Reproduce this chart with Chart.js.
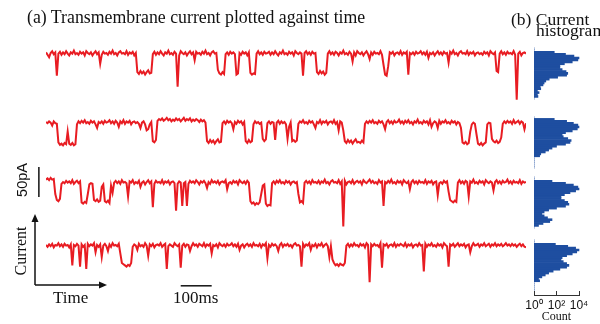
<!DOCTYPE html>
<html>
<head>
<meta charset="utf-8">
<script src="https://cdn.jsdelivr.net/npm/chart.js@4"></script>
<style>
html, body { margin: 0; padding: 0; background: #fff; }
#wrap { position: relative; width: 600px; height: 324px; overflow: hidden; }
#wrap canvas, #wrap svg { position: absolute; }
.lbl { position: absolute; font-family: 'Liberation Serif', serif; color: #111; white-space: nowrap; line-height: 1; }
.rot { transform: translate(-50%, -50%) rotate(-90deg); }
</style>
</head>
<body>
<div id="wrap">
  <canvas id="trace1" width="600" height="96" style="left:0;top:35px"></canvas>
  <canvas id="trace2" width="600" height="96" style="left:0;top:104px"></canvas>
  <canvas id="trace3" width="600" height="96" style="left:0;top:164px"></canvas>
  <canvas id="trace4" width="600" height="96" style="left:0;top:227px"></canvas>
  <canvas id="hist1" width="46" height="96" style="left:534px;top:35px"></canvas>
  <canvas id="hist2" width="46" height="96" style="left:534px;top:104px"></canvas>
  <canvas id="hist3" width="46" height="96" style="left:534px;top:164px"></canvas>
  <canvas id="hist4" width="46" height="96" style="left:534px;top:227px"></canvas>
  <canvas id="countAxis" width="76" height="33" style="left:519px;top:291px"></canvas>

  <svg width="600" height="324" style="left:0;top:0">
    <line x1="35" y1="285" x2="35" y2="221" stroke="#111" stroke-width="1.5"/>
    <polygon points="35,214 31.5,222 38.5,222" fill="#111"/>
    <line x1="35" y1="285" x2="100" y2="285" stroke="#111" stroke-width="1.5"/>
    <polygon points="107,285 99,281.5 99,288.5" fill="#111"/>
  </svg>

  <div class="lbl" style="left:27px;top:9px;font-size:17.8px">(a) Transmembrane current plotted against time</div>
  <div class="lbl" style="left:511px;top:11px;font-size:17.5px">(b) Current</div>
  <div class="lbl" style="left:536px;top:22px;font-size:17.5px">histogram</div>
  <div class="lbl rot" style="left:22px;top:180px;font-size:14.5px;font-family:'Liberation Sans',sans-serif">50pA</div>
  <div class="lbl rot" style="left:21px;top:251px;font-size:16px">Current</div>
  <div class="lbl" style="left:53px;top:289px;font-size:17px">Time</div>
  <div class="lbl" style="left:173px;top:289px;font-size:17px">100ms</div>
</div>
<script>
// sample times (ms), one point every 5 ms
const timeMs = Array.from({ length: 311 }, (_, i) => i * 5)

// transmembrane current (pA)
const current1 = [
  101, 97, 93, 100, 103, 98, 101, 62, 99, 102,
  97, 101, 98, 103, 99, 96, 101, 99, 104, 98,
  100, 97, 102, 99, 101, 96, 103, 100, 98, 101,
  96, 100, 103, 98, 101, 82, 97, 102, 99, 100,
  97, 102, 99, 104, 98, 100, 96, 101, 103, 99,
  100, 98, 103, 97, 101, 99, 102, 96, 100, 68,
  65, 70, 66, 69, 64, 68, 71, 66, 67, 98,
  102, 97, 101, 98, 103, 99, 96, 101, 99, 104,
  98, 100, 97, 102, 99, 44, 96, 103, 100, 98,
  101, 96, 100, 103, 98, 101, 88, 102, 99, 100,
  97, 102, 99, 104, 98, 100, 96, 101, 103, 99,
  100, 72, 66, 64, 68, 65, 98, 101, 97, 102,
  99, 101, 98, 64, 66, 100, 97, 102, 99, 101,
  96, 101, 67, 64, 66, 65, 99, 103, 98, 101,
  97, 102, 99, 100, 102, 97, 101, 98, 103, 99,
  96, 101, 99, 104, 98, 100, 97, 102, 99, 101,
  96, 103, 100, 98, 101, 99, 62, 100, 103, 98,
  101, 97, 102, 99, 100, 68, 65, 70, 66, 69,
  64, 67, 99, 103, 98, 101, 97, 102, 100, 96,
  101, 99, 104, 98, 100, 97, 102, 99, 86, 101,
  96, 103, 100, 98, 101, 96, 100, 103, 98, 90,
  101, 97, 102, 99, 100, 98, 103, 97, 80, 64,
  62, 78, 101, 99, 102, 96, 100, 101, 98, 103,
  97, 101, 99, 102, 64, 100, 98, 101, 97, 102,
  99, 100, 103, 98, 101, 97, 102, 92, 100, 98,
  101, 96, 100, 103, 98, 101, 97, 102, 99, 100,
  84, 102, 99, 104, 98, 100, 96, 101, 103, 99,
  100, 98, 103, 97, 101, 99, 102, 96, 100, 101,
  98, 100, 97, 102, 99, 101, 96, 103, 100, 98,
  101, 70, 68, 99, 103, 98, 101, 97, 102, 99,
  100, 98, 103, 97, 22, 99, 102, 96, 100, 101,
  99
]
const current2 = [
  100, 98, 101, 99, 94, 101, 98, 97, 66, 62,
  64, 61, 65, 63, 84, 64, 62, 65, 61, 63,
  96, 101, 98, 102, 99, 103, 98, 100, 97, 102,
  99, 101, 96, 90, 100, 98, 101, 97, 102, 99,
  100, 103, 98, 101, 97, 102, 99, 92, 101, 98,
  103, 97, 101, 99, 102, 96, 100, 101, 98, 100,
  97, 90, 99, 101, 96, 86, 88, 96, 100, 68,
  66, 70, 102, 105, 103, 106, 102, 104, 107, 103,
  105, 101, 104, 102, 106, 103, 105, 101, 104, 107,
  102, 105, 103, 106, 101, 104, 102, 105, 103, 100,
  104, 101, 103, 99, 68, 65, 70, 66, 69, 64,
  68, 71, 66, 67, 98, 101, 97, 102, 99, 101,
  98, 88, 100, 97, 102, 99, 101, 96, 100, 68,
  65, 70, 66, 68, 96, 101, 98, 100, 97, 99,
  72, 68, 71, 98, 101, 97, 100, 99, 70, 99,
  102, 97, 101, 98, 100, 96, 72, 92, 99, 68,
  70, 67, 69, 97, 101, 99, 103, 98, 100, 97,
  102, 99, 101, 96, 90, 100, 98, 103, 97, 101,
  99, 102, 96, 100, 101, 98, 103, 97, 100, 86,
  101, 99, 86, 68, 65, 70, 66, 69, 64, 68,
  71, 66, 67, 65, 69, 66, 97, 101, 98, 102,
  99, 103, 98, 100, 97, 102, 99, 101, 96, 88,
  100, 103, 98, 101, 97, 102, 99, 100, 104, 98,
  101, 97, 102, 99, 103, 98, 100, 96, 101, 99,
  104, 98, 100, 97, 102, 99, 101, 96, 103, 92,
  98, 101, 99, 90, 102, 97, 101, 99, 103, 98,
  100, 97, 102, 99, 101, 96, 100, 98, 90, 66,
  64, 67, 63, 65, 84, 96, 99, 97, 80, 64,
  62, 65, 61, 64, 66, 96, 99, 98, 72, 68,
  66, 69, 65, 67, 74, 97, 101, 98, 102, 99,
  101, 97, 103, 98, 100, 102, 97, 101, 99, 88,
  98
]
const current3 = [
  104, 106, 103, 107, 104, 105, 80, 70, 68, 72,
  97, 100, 98, 102, 99, 101, 98, 103, 97, 100,
  102, 98, 101, 66, 64, 67, 65, 80, 96, 98,
  97, 70, 68, 71, 67, 69, 92, 96, 68, 66,
  69, 65, 94, 82, 99, 102, 98, 101, 97, 103,
  99, 100, 98, 76, 101, 99, 103, 97, 100, 98,
  102, 92, 99, 101, 96, 100, 103, 98, 101, 58,
  97, 102, 99, 100, 98, 103, 97, 101, 99, 102,
  96, 100, 101, 98, 52, 97, 101, 99, 60, 98,
  100, 60, 97, 102, 99, 101, 98, 103, 100, 96,
  101, 99, 102, 98, 90, 100, 97, 103, 99, 101,
  98, 102, 96, 100, 101, 99, 103, 88, 98, 100,
  97, 102, 99, 101, 96, 103, 100, 98, 101, 97,
  102, 99, 68, 64, 66, 62, 65, 63, 66, 80,
  94, 96, 64, 60, 62, 61, 98, 101, 97, 102,
  99, 103, 98, 100, 97, 102, 99, 101, 96, 100,
  101, 98, 100, 80, 66, 68, 65, 99, 102, 98,
  101, 97, 103, 99, 100, 98, 102, 97, 101, 99,
  104, 98, 100, 96, 101, 103, 99, 100, 98, 103,
  97, 101, 26, 102, 96, 100, 101, 98, 103, 97,
  100, 102, 99, 101, 96, 103, 100, 98, 101, 104,
  99, 102, 98, 100, 97, 103, 99, 101, 60, 100,
  98, 102, 99, 104, 98, 100, 97, 102, 99, 101,
  96, 103, 100, 98, 101, 88, 100, 103, 98, 101,
  97, 102, 99, 100, 98, 103, 97, 101, 99, 102,
  96, 100, 101, 78, 98, 100, 97, 102, 99, 101,
  84, 70, 68, 66, 69, 67, 99, 103, 98, 101,
  97, 102, 100, 76, 101, 99, 104, 98, 100, 97,
  102, 99, 101, 96, 103, 100, 98, 101, 99, 86,
  100, 103, 98, 101, 97, 102, 99, 100, 104, 98,
  101, 97, 102, 99, 100, 98, 103, 97, 101, 99,
  100
]
const current4 = [
  100, 97, 101, 98, 102, 96, 100, 99, 103, 98,
  101, 97, 102, 99, 100, 96, 101, 66, 100, 98,
  102, 99, 64, 101, 97, 100, 60, 102, 98, 101,
  99, 103, 88, 100, 97, 101, 80, 99, 102, 98,
  90, 101, 97, 103, 99, 100, 98, 102, 86, 70,
  68, 66, 64, 67, 65, 70, 97, 101, 99, 92,
  102, 98, 100, 97, 103, 99, 82, 101, 98, 102,
  96, 100, 101, 99, 103, 97, 100, 102, 60, 98,
  101, 99, 97, 103, 100, 98, 101, 62, 99, 102,
  97, 101, 100, 90, 98, 103, 99, 101, 97, 102,
  100, 98, 103, 97, 101, 99, 102, 86, 100, 98,
  101, 96, 103, 100, 98, 101, 97, 102, 99, 100,
  103, 98, 101, 97, 102, 92, 99, 101, 96, 100,
  102, 98, 101, 97, 103, 99, 100, 98, 102, 96,
  101, 99, 103, 78, 100, 97, 102, 99, 101, 98,
  90, 100, 103, 97, 101, 99, 102, 98, 100, 96,
  101, 103, 99, 100, 98, 64, 102, 97, 101, 99,
  103, 92, 100, 98, 102, 96, 101, 99, 103, 97,
  100, 102, 98, 80, 98, 76, 70, 66, 68, 65,
  69, 67, 66, 70, 99, 102, 97, 101, 98, 103,
  99, 100, 97, 102, 99, 101, 96, 103, 100, 38,
  101, 98, 102, 99, 100, 97, 103, 62, 101, 99,
  102, 96, 100, 101, 98, 103, 97, 101, 99, 102,
  100, 98, 103, 97, 101, 99, 102, 96, 100, 101,
  98, 103, 99, 100, 56, 102, 97, 101, 99, 103,
  98, 100, 97, 102, 99, 101, 96, 103, 100, 98,
  64, 101, 99, 102, 97, 100, 103, 98, 101, 99,
  102, 96, 100, 101, 88, 98, 103, 99, 100, 102,
  97, 101, 99, 103, 98, 100, 102, 97, 101, 99,
  103, 98, 101, 99, 102, 98, 100, 103, 99, 101,
  98, 102, 99, 101, 97, 100, 102, 98, 101, 97,
  96
]

// histogram bins (pA) and log10(count) per trace
const histBins = [122, 118, 114, 110, 106, 102, 98, 94, 90, 86, 82, 78, 74, 70, 66, 62, 58, 54, 50, 46, 42, 38, 34, 30, 26, 22, 18]
const hist1Log = [0, 0, 1.8, 2.8, 3.55, 4.0, 3.9, 3.4, 2.7, 2.3, 2.3, 2.5, 2.85, 3.0, 2.9, 2.1, 1.35, 1.05, 0.9, 0.8, 0.55, 0.6, 0.3, 0.45, 0.3, 0.35, 0]
const hist2Log = [0, 1.8, 2.9, 3.5, 3.9, 4.0, 3.85, 3.4, 2.8, 2.5, 2.6, 3.0, 3.3, 3.2, 2.8, 2.0, 1.6, 1.3, 1.0, 0.6, 0.5, 0, 0, 0, 0, 0, 0]
const hist3Log = [0, 0, 1.6, 2.8, 3.5, 3.9, 4.0, 3.7, 3.2, 2.7, 2.4, 2.4, 2.7, 3.0, 3.1, 2.8, 2.0, 1.3, 0.9, 0.7, 0.9, 1.2, 1.6, 1.4, 0.8, 0.4, 0]
const hist4Log = [0, 0, 1.9, 3.0, 3.7, 4.0, 3.8, 3.4, 2.9, 2.5, 2.4, 2.6, 2.9, 3.1, 2.9, 2.3, 1.7, 1.3, 1.0, 0.7, 0.4, 0.5, 0, 0, 0, 0, 0]
const countTicks = ['10\u2070', '10\u00b9', '10\u00b2', '10\u00b3', '10\u2074']

const red = 'rgb(232, 28, 34)'
const blue = 'rgb(30, 78, 160)'

// scale bars: 50 pA on trace 3, 100 ms on trace 4
const scaleBar = {
  id: 'scaleBar',
  afterDraw(chart, args, opts) {
    if (!opts.kind) return
    const { ctx, scales: { x, y } } = chart
    ctx.save()
    ctx.strokeStyle = '#111'
    ctx.lineWidth = 1.5
    ctx.beginPath()
    if (opts.kind === 'pA') {
      const px = x.getPixelForValue(opts.t)
      ctx.moveTo(px, y.getPixelForValue(opts.from))
      ctx.lineTo(px, y.getPixelForValue(opts.to))
    } else {
      const py = y.getPixelForValue(opts.at)
      ctx.moveTo(x.getPixelForValue(opts.from), py)
      ctx.lineTo(x.getPixelForValue(opts.to), py)
    }
    ctx.stroke()
    ctx.restore()
  }
}

function traceChart(id, values, bar) {
  return new Chart(document.getElementById(id), {
    type: 'line',
    data: {
      labels: timeMs,
      datasets: [{ data: values, borderColor: red, borderWidth: 2, pointRadius: 0, tension: 0 }]
    },
    options: {
      responsive: false,
      animation: false,
      events: [],
      layout: { padding: { left: 46, right: 74, top: 0, bottom: 0 } },
      plugins: { legend: { display: false }, tooltip: { enabled: false }, scaleBar: bar || {} },
      scales: {
        x: { type: 'linear', display: false, min: 0, max: 1550 },
        y: { display: false, min: -30, max: 130 }
      }
    },
    plugins: [scaleBar]
  })
}

function histChart(id, values) {
  return new Chart(document.getElementById(id), {
    type: 'bar',
    data: {
      labels: histBins,
      datasets: [{ data: values, backgroundColor: blue, borderWidth: 0, barPercentage: 1, categoryPercentage: 1 }]
    },
    options: {
      indexAxis: 'y',
      responsive: false,
      animation: false,
      events: [],
      layout: { padding: 0 },
      plugins: { legend: { display: false }, tooltip: { enabled: false } },
      scales: {
        x: { type: 'linear', display: false, min: 0, max: 4.09 },
        y: { type: 'linear', display: false, min: -30, max: 130 }
      }
    }
  })
}

traceChart('trace1', current1)
traceChart('trace2', current2)
traceChart('trace3', current3, { kind: 'pA', t: -23, from: 125, to: 75 })
traceChart('trace4', current4, { kind: 'ms', at: 32, from: 435, to: 535 })
histChart('hist1', hist1Log)
histChart('hist2', hist2Log)
histChart('hist3', hist3Log)
histChart('hist4', hist4Log)

// shared count axis under the histograms
new Chart(document.getElementById('countAxis'), {
  type: 'scatter',
  data: { datasets: [{ data: [] }] },
  options: {
    responsive: false,
    animation: false,
    events: [],
    layout: { padding: { left: 15, right: 16, top: 0, bottom: 0 } },
    plugins: { legend: { display: false }, tooltip: { enabled: false } },
    scales: {
      x: {
        min: 0, max: 4,
        afterFit: (s) => { s.height = 29 },
        grid: { color: '#333', lineWidth: 1, drawTicks: false },
        border: { color: '#333', width: 1 },
        ticks: {
          stepSize: 2, padding: 3, color: '#111', maxRotation: 0, autoSkip: false,
          font: { family: 'Liberation Sans', size: 12 },
          callback: (v) => countTicks[v]
        },
        title: { display: true, text: 'Count', color: '#111', padding: 0, font: { family: 'Liberation Serif', size: 12 } }
      },
      y: { display: false, min: 0, max: 1 }
    }
  }
})
</script>
</body>
</html>
